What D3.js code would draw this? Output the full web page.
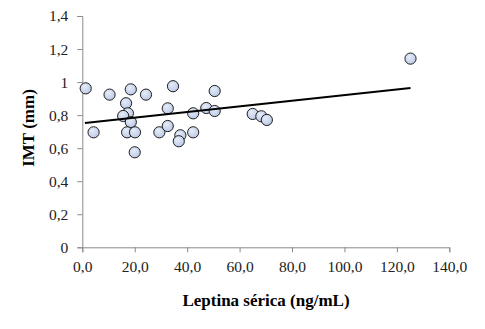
<!DOCTYPE html>
<html>
<head>
<meta charset="utf-8">
<script src="https://cdn.jsdelivr.net/npm/d3@7"></script>
<style>
  body { margin: 0; background: #fff; }
  svg { display: block; }
  text { font-family: "Liberation Serif", "Times New Roman", serif; }
</style>
</head>
<body>
<svg id="chart" width="485" height="329"></svg>
<script>
// leptina (ng/mL) vs IMT (mm)
var leptina = [1.3, 4.3, 10.4, 18.5, 16.7, 17.4, 15.6, 18.5, 17.1, 20.1, 20.0, 24.3, 34.6, 32.6,
  29.4, 32.6, 37.4, 36.8, 42.3, 42.3, 47.3, 50.5, 50.5, 65.0, 68.3, 70.4, 125.2];
var imt = [0.962, 0.696, 0.924, 0.956, 0.872, 0.811, 0.795, 0.758, 0.696, 0.696, 0.575, 0.924, 0.975, 0.841,
  0.696, 0.734, 0.678, 0.642, 0.811, 0.696, 0.843, 0.946, 0.825, 0.807, 0.793, 0.771, 1.142];
var trendX = [1.0, 125.2];
var trendY = [0.752, 0.964];
var xTicks = [0, 20, 40, 60, 80, 100, 120, 140];
var yTicks = [0, 0.2, 0.4, 0.6, 0.8, 1, 1.2, 1.4];

var svg = d3.select("#chart");
var serif = "'Liberation Serif', 'Times New Roman', serif";
var xScale = d3.scaleLinear().domain([0, 140]).range([82.3, 449.3]);
var yScale = d3.scaleLinear().domain([0, 1.4]).range([247.3, 16]);

var comma = function (v, dec) {
  return v.toFixed(dec).replace(".", ",");
};

var grad = svg.append("defs").append("radialGradient")
  .attr("id", "dotFill").attr("cx", "40%").attr("cy", "35%").attr("r", "70%");
grad.append("stop").attr("offset", "0%").attr("stop-color", "#e6ecf8");
grad.append("stop").attr("offset", "100%").attr("stop-color", "#b9c8e6");

var xAxis = svg.append("g")
  .attr("transform", "translate(0," + yScale(0) + ")")
  .call(d3.axisBottom(xScale).tickValues(xTicks).tickSize(5).tickPadding(9)
    .tickFormat(function (d) { return comma(d, 1); }));

var yAxis = svg.append("g")
  .attr("transform", "translate(" + xScale(0) + ",0)")
  .call(d3.axisLeft(yScale).tickValues(yTicks).tickSize(5).tickPadding(9)
    .tickFormat(function (d) { return d === 0 || d === 1 ? String(d) : comma(d, 1); }));

[xAxis, yAxis].forEach(function (g) {
  g.attr("font-family", serif).attr("font-size", 15.5);
  g.select(".domain").attr("stroke", "#8a8a8a");
  g.selectAll(".tick line").attr("stroke", "#8a8a8a");
  g.selectAll(".tick text").attr("fill", "#222");
});

svg.append("g").selectAll("circle")
  .data(leptina)
  .enter()
  .append("circle")
  .attr("cx", function (d) { return xScale(d); })
  .attr("cy", function (d, i) { return yScale(imt[i]); })
  .attr("r", 5.6)
  .attr("fill", "url(#dotFill)")
  .attr("stroke", "#1e1e1e")
  .attr("stroke-width", "1");

var line = d3.line()
  .x(function (d) { return xScale(d); })
  .y(function (d, i) { return yScale(trendY[i]); });
svg.append("path")
  .datum(trendX)
  .attr("d", line)
  .attr("fill", "none")
  .attr("stroke", "#000")
  .attr("stroke-width", "2");

svg.append("text")
  .attr("x", 266).attr("y", 306)
  .attr("text-anchor", "middle")
  .attr("font-family", serif)
  .attr("font-size", 17).attr("font-weight", "bold")
  .text("Leptina sérica (ng/mL)");

svg.append("text")
  .attr("transform", "translate(34,128) rotate(-90)")
  .attr("text-anchor", "middle")
  .attr("font-family", serif)
  .attr("font-size", 17).attr("font-weight", "bold")
  .text("IMT (mm)");
</script>
</body>
</html>
